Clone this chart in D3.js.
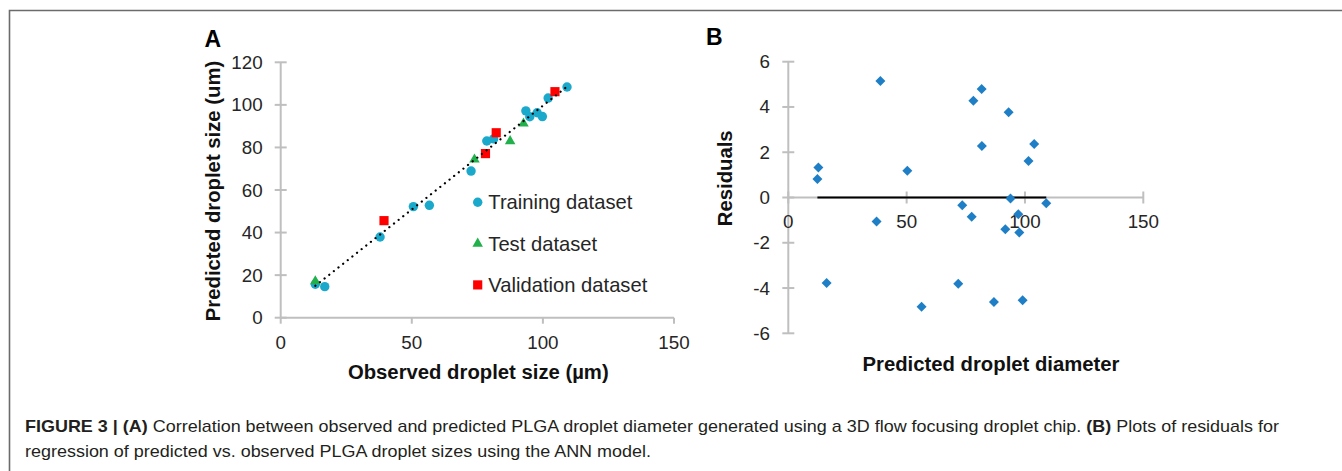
<!DOCTYPE html>
<html>
<head>
<meta charset="utf-8">
<script src="https://cdn.jsdelivr.net/npm/d3@7"></script>
<style>
  body { margin: 0; background: #fff; }
  svg text { font-family: "Liberation Sans", Arial, sans-serif; }
</style>
</head>
<body>
<div id="chart"></div>
<script>
// panel A: observed vs predicted droplet size (um)
var trainObs  = [13.2, 16.8, 37.9, 50.6, 56.7, 72.6, 78.6, 81.2, 93.5, 95.0, 97.8, 99.8, 102.0, 109.2];
var trainPred = [15.7, 14.6, 37.9, 52.2, 52.8, 68.9, 83.0, 84.0, 97.2, 94.4, 96.3, 94.5, 103.2, 108.4];
var testObs   = [13.2, 73.9, 87.5, 92.6];
var testPred  = [16.9, 74.1, 82.7, 91.0];
var validObs  = [39.4, 78.1, 82.2, 104.6];
var validPred = [45.6, 77.1, 86.9, 106.2];

// panel B: residuals vs predicted diameter
var residX = [12.7, 12.3, 16.2, 37.3, 38.9, 50.3, 56.3, 71.8, 73.5, 77.5, 78.2, 81.7, 81.8, 86.9,
              91.7, 93.1, 93.9, 97.2, 97.6, 99.0, 101.5, 103.9, 109.0];
var residY = [1.33, 0.82, -3.78, -1.06, 5.15, 1.18, -4.83, -3.81, -0.34, -0.85, 4.27, 4.79, 2.28, -4.62,
              -1.40, 3.77, -0.04, -0.74, -1.55, -4.54, 1.61, 2.36, -0.25];

var xTicks = [0, 50, 100, 150];
var yTicksA = [0, 20, 40, 60, 80, 100, 120];
var yTicksB = [-6, -4, -2, 0, 2, 4, 6];
var legendNames = ["Training dataset", "Test dataset", "Validation dataset"];

var width = 1342, height = 471;
var axisCol = "#bfbfbf", tickText = "#262626";

var svg = d3.select("#chart").append("svg")
  .attr("width", width)
  .attr("height", height);

// frame
svg.append("path")
  .attr("d", "M9.5,471V10.5H1342")
  .style("fill", "none")
  .style("stroke", "#6b6b6b")
  .style("stroke-width", 1.6);

// ---------- panel A ----------
var xA = d3.scaleLinear().domain([0, 150]).range([280.7, 674]);
var yA = d3.scaleLinear().domain([0, 120]).range([317.7, 62.3]);

var gA = svg.append("g");

gA.append("line")
  .attr("x1", xA(0)).attr("x2", xA(0))
  .attr("y1", yA(0)).attr("y2", yA(120))
  .style("stroke", axisCol).style("stroke-width", 2);
gA.append("line")
  .attr("x1", xA(0)).attr("x2", xA(150))
  .attr("y1", yA(0)).attr("y2", yA(0))
  .style("stroke", axisCol).style("stroke-width", 2);

gA.selectAll(".ytick").data(yTicksA).enter().append("line")
  .attr("x1", xA(0) - 6).attr("x2", xA(0) + 6)
  .attr("y1", function (d) { return yA(d); })
  .attr("y2", function (d) { return yA(d); })
  .style("stroke", axisCol).style("stroke-width", 2);
gA.selectAll(".xtick").data(xTicks).enter().append("line")
  .attr("x1", function (d) { return xA(d); })
  .attr("x2", function (d) { return xA(d); })
  .attr("y1", yA(0)).attr("y2", yA(0) + 6)
  .style("stroke", axisCol).style("stroke-width", 2);

gA.selectAll(".ylab").data(yTicksA).enter().append("text")
  .attr("x", 262.7)
  .attr("y", function (d) { return yA(d) + 6.5; })
  .style("text-anchor", "end")
  .style("font-size", "18.8px")
  .style("fill", tickText)
  .text(function (d) { return d; });
gA.selectAll(".xlab").data(xTicks).enter().append("text")
  .attr("x", function (d) { return xA(d); })
  .attr("y", 348.8)
  .style("text-anchor", "middle")
  .style("font-size", "18.8px")
  .style("fill", tickText)
  .text(function (d) { return d; });

gA.append("text")
  .attr("x", 478.3).attr("y", 378.5)
  .style("text-anchor", "middle")
  .style("font-size", "20.3px")
  .style("font-weight", "bold")
  .style("fill", "#111")
  .text("Observed droplet size (µm)");
gA.append("text")
  .attr("transform", "translate(219.5,191) rotate(-90)")
  .style("text-anchor", "middle")
  .style("font-size", "20.3px")
  .style("font-weight", "bold")
  .style("fill", "#111")
  .text("Predicted droplet size (um)");

gA.append("text")
  .attr("x", 204.5).attr("y", 46.8)
  .style("font-size", "23px")
  .style("font-weight", "bold")
  .style("fill", "#000")
  .text("A");

// trendline through all points (least squares)
var allObs = trainObs.concat(testObs, validObs);
var allPred = trainPred.concat(testPred, validPred);
var mx = d3.mean(allObs), my = d3.mean(allPred);
var sxy = d3.sum(allObs, function (v, i) { return (v - mx) * (allPred[i] - my); });
var sxx = d3.sum(allObs, function (v) { return (v - mx) * (v - mx); });
var slope = sxy / sxx, icpt = my - slope * mx;
var ext = d3.extent(allObs);

var toPts = function (xs, ys) {
  return xs.map(function (v, i) { return { x: v, y: ys[i] }; });
};

gA.selectAll(".train").data(toPts(trainObs, trainPred)).enter().append("circle")
  .attr("cx", function (d) { return xA(d.x); })
  .attr("cy", function (d) { return yA(d.y); })
  .attr("r", 4.7)
  .style("fill", "#1ba9cb");

gA.selectAll(".test").data(toPts(testObs, testPred)).enter().append("path")
  .attr("d", d3.symbol().type(d3.symbolTriangle).size(48))
  .attr("transform", function (d) { return "translate(" + xA(d.x) + "," + (yA(d.y) - 0.5) + ")"; })
  .style("fill", "#21b04b");

gA.selectAll(".valid").data(toPts(validObs, validPred)).enter().append("path")
  .attr("d", d3.symbol().type(d3.symbolSquare).size(84))
  .attr("transform", function (d) { return "translate(" + xA(d.x) + "," + yA(d.y) + ")"; })
  .style("fill", "#ff0000");

gA.append("line")
  .attr("x1", xA(ext[0])).attr("y1", yA(slope * ext[0] + icpt))
  .attr("x2", xA(ext[1])).attr("y2", yA(slope * ext[1] + icpt))
  .style("stroke", "#000")
  .style("stroke-width", 2.2)
  .style("stroke-linecap", "round")
  .style("stroke-dasharray", "0.1,5.8");

// legend
var lg = gA.selectAll(".leg").data(legendNames).enter().append("g")
  .attr("transform", function (d, i) { return "translate(477.7," + (202.3 + i * 41.3) + ")"; });
lg.each(function (d, i) {
  var g = d3.select(this);
  if (i == 0) {
    g.append("circle").attr("r", 4.7).style("fill", "#1ba9cb");
  } else if (i == 1) {
    g.append("path").attr("d", d3.symbol().type(d3.symbolTriangle).size(48)).style("fill", "#21b04b");
  } else {
    g.append("path").attr("d", d3.symbol().type(d3.symbolSquare).size(84)).style("fill", "#ff0000");
  }
});
lg.append("text")
  .attr("x", 10.6).attr("y", 7)
  .style("font-size", "20.2px")
  .style("fill", tickText)
  .text(function (d) { return d; });

// ---------- panel B ----------
var xB = d3.scaleLinear().domain([0, 150]).range([788.3, 1143.3]);
var yB = d3.scaleLinear().domain([-6, 6]).range([333.3, 61.7]);

var gB = svg.append("g");

gB.append("line")
  .attr("x1", xB(0)).attr("x2", xB(0))
  .attr("y1", yB(-6)).attr("y2", yB(6))
  .style("stroke", axisCol).style("stroke-width", 2);
gB.append("line")
  .attr("x1", xB(0)).attr("x2", xB(150))
  .attr("y1", yB(0)).attr("y2", yB(0))
  .style("stroke", axisCol).style("stroke-width", 2);

gB.selectAll(".ytick").data(yTicksB).enter().append("line")
  .attr("x1", xB(0) - 6).attr("x2", xB(0) + 6)
  .attr("y1", function (d) { return yB(d); })
  .attr("y2", function (d) { return yB(d); })
  .style("stroke", axisCol).style("stroke-width", 2);
gB.selectAll(".xtick").data(xTicks).enter().append("line")
  .attr("x1", function (d) { return xB(d); })
  .attr("x2", function (d) { return xB(d); })
  .attr("y1", yB(0) - 6).attr("y2", yB(0) + 6)
  .style("stroke", axisCol).style("stroke-width", 2);

gB.selectAll(".ylab").data(yTicksB).enter().append("text")
  .attr("x", 770)
  .attr("y", function (d) { return yB(d) + 6.5; })
  .style("text-anchor", "end")
  .style("font-size", "18.8px")
  .style("fill", tickText)
  .text(function (d) { return d; });
gB.selectAll(".xlab").data(xTicks).enter().append("text")
  .attr("x", function (d) { return xB(d); })
  .attr("y", 228.3)
  .style("text-anchor", "middle")
  .style("font-size", "18.8px")
  .style("fill", tickText)
  .text(function (d) { return d; });

gB.append("text")
  .attr("x", 991).attr("y", 370.7)
  .style("text-anchor", "middle")
  .style("font-size", "20.3px")
  .style("font-weight", "bold")
  .style("fill", "#111")
  .text("Predicted droplet diameter");
gB.append("text")
  .attr("transform", "translate(731.5,178.3) rotate(-90)")
  .style("text-anchor", "middle")
  .style("font-size", "20.3px")
  .style("font-weight", "bold")
  .style("fill", "#111")
  .text("Residuals");

gB.append("text")
  .attr("x", 706).attr("y", 45)
  .style("font-size", "23px")
  .style("font-weight", "bold")
  .style("fill", "#000")
  .text("B");

// zero line across the predicted range
var rExt = d3.extent(residX);
gB.append("line")
  .attr("x1", xB(rExt[0])).attr("x2", xB(rExt[1]))
  .attr("y1", yB(0)).attr("y2", yB(0))
  .style("stroke", "#000").style("stroke-width", 1.8);

gB.selectAll(".res").data(toPts(residX, residY)).enter().append("path")
  .attr("d", d3.symbol().type(d3.symbolSquare).size(50))
  .attr("transform", function (d) { return "translate(" + xB(d.x) + "," + yB(d.y) + ") rotate(45)"; })
  .style("fill", "#1f7fc6");

// ---------- caption ----------
var cap = svg.append("g").style("font-size", "16.4px").style("fill", "#231f20");
var l1 = cap.append("text").attr("x", 25).attr("y", 431.7);
l1.append("tspan").style("font-weight", "bold").text("FIGURE 3 | (A)");
l1.append("tspan").text(" Correlation between observed and predicted PLGA droplet diameter generated using a 3D flow focusing droplet chip. ");
l1.append("tspan").style("font-weight", "bold").text("(B)");
l1.append("tspan").text(" Plots of residuals for");
var l2 = cap.append("text").attr("x", 25).attr("y", 457.4)
  .text("regression of predicted vs. observed PLGA droplet sizes using the ANN model.");

// caption font in the figure runs wider than Arial: stretch both lines by the same factor
var w1 = l1.node().getComputedTextLength(), w2 = l2.node().getComputedTextLength();
var k = 1254 / w1;
l1.attr("textLength", 1254).attr("lengthAdjust", "spacingAndGlyphs");
l2.attr("textLength", w2 * k).attr("lengthAdjust", "spacingAndGlyphs");
</script>
</body>
</html>
